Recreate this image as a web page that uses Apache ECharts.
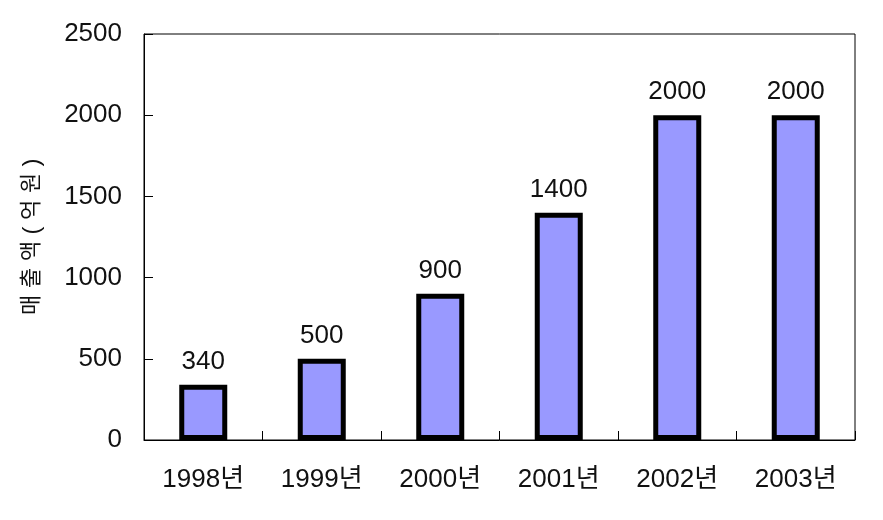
<!DOCTYPE html>
<html><head><meta charset="utf-8">
<script src="https://cdn.jsdelivr.net/npm/echarts@6/dist/echarts.min.js"></script>
<style>html,body{margin:0;padding:0;background:#fff}#c{width:883px;height:520px}</style>
</head><body><div id="c"></div>
<script>
const categories = ['1998년','1999년','2000년','2001년','2002년','2003년'];
const sales = [340, 500, 900, 1400, 2000, 2000];
const yTicks = [0, 500, 1000, 1500, 2000, 2500];
const yName = '매출액(억원)';

const FONT = '"Liberation Sans", "Noto Sans CJK KR", sans-serif';
const nameRich = Array.from(yName).map(ch => (ch === '(' || ch === ')') ? '{p|' + ch + '}' : '{h|' + ch + '}').join('');
const chart = echarts.init(document.getElementById('c'), null, {renderer:'canvas'});
chart.setOption({
  animation:false,
  backgroundColor:'#fff',
  grid:{left:144, top:34, right:28, bottom:80, show:true, borderColor:'#000', borderWidth:1, backgroundColor:'transparent'},
  xAxis:{
    type:'category', data:categories,
    axisLine:{show:true, lineStyle:{color:'#000', width:1}},
    axisTick:{show:true, inside:true, length:9, lineStyle:{color:'#000'}},
    axisLabel:{color:'#111', fontSize:26, fontFamily:FONT, margin:27}
  },
  yAxis:{
    type:'value', min:yTicks[0], max:yTicks[yTicks.length-1], interval:500,
    name:nameRich, nameLocation:'middle', nameGap:100, nameRotate:90,
    nameTextStyle:{color:'#111', fontSize:22, fontFamily:FONT,
      rich:{h:{fontSize:22, fontFamily:FONT, color:'#111', width:27, align:'center'},
            p:{fontSize:24, fontFamily:FONT, color:'#111', width:14, align:'center'}}},
    axisLine:{show:true, lineStyle:{color:'#000', width:1}},
    axisTick:{show:true, inside:true, length:9, lineStyle:{color:'#000'}},
    splitLine:{show:false},
    axisLabel:{color:'#111', fontSize:26, fontFamily:FONT, margin:22, formatter: v => String(v)}
  },
  series:[{
    type:'bar', data:sales, barWidth:48,
    itemStyle:{color:'#9999FF', borderColor:'#000', borderWidth:5},
    label:{show:true, position:'top', distance:10, color:'#111', fontSize:26, fontFamily:FONT}
  }]
});
</script></body></html>
